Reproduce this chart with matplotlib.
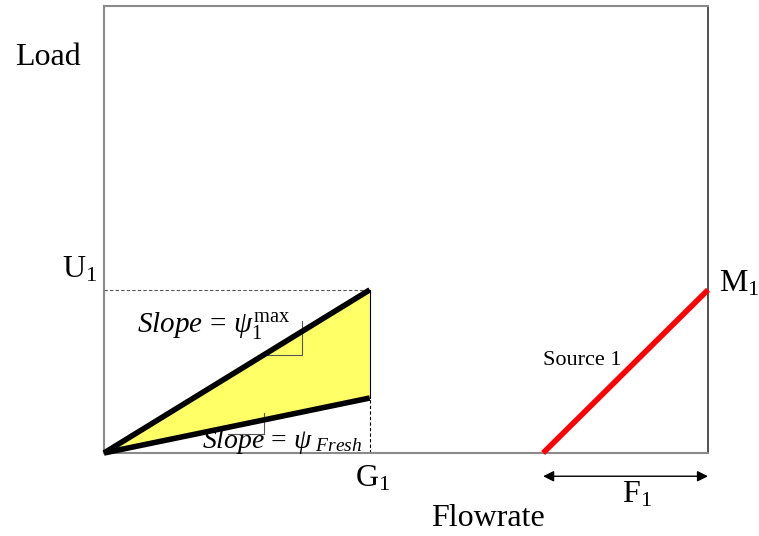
import numpy as np
import matplotlib.pyplot as plt

plt.rcParams["font.family"] = ["Liberation Serif", "DejaVu Serif"]
plt.rcParams["mathtext.fontset"] = "custom"
plt.rcParams["mathtext.rm"] = "Liberation Serif"
plt.rcParams["mathtext.it"] = "Liberation Serif:italic"

# Load / flowrate diagram values (axis units 0..100)
flow_limit = 100.0
load_limit = 100.0
g1_flow = 44.0          # G1: demand flowrate
u1_load = 36.5          # U1: max load at G1
fresh_load = 12.3       # load along the fresh-water slope at G1
source_start = 72.7     # start of source 1 segment
source_end = 100.0
m1_load = 36.5          # M1: source 1 load

# right-angle slope markers: (x_left, x_corner, y_corner, y_top)
upper_marker = [27.0, 32.8, 22.0, 29.6]
lower_marker = [20.5, 26.5, 4.3, 9.0]

fig = plt.figure(figsize=(7.59, 5.36), dpi=100)
ax = fig.add_axes([104 / 759, 83 / 536, 604 / 759, 447 / 536])
ax.set_xlim(0, flow_limit)
ax.set_ylim(0, load_limit)
ax.set_xticks([])
ax.set_yticks([])
for side in ["left", "top", "bottom"]:
    ax.spines[side].set_color("#8a8a8a")
    ax.spines[side].set_linewidth(1.5)
ax.spines["right"].set_color("#333333")
ax.spines["right"].set_linewidth(1.2)

# yellow feasible region between the two slopes
ax.fill([0, g1_flow, g1_flow], [0, u1_load, fresh_load],
        color="#ffff66", zorder=1)
ax.plot([g1_flow, g1_flow], [fresh_load, u1_load], color="black", lw=0.8, zorder=2)

# guide lines
ax.plot([0, g1_flow], [u1_load, u1_load], color="#555555", lw=0.8,
        ls=(0, (3, 2)), zorder=2)
ax.plot([g1_flow, g1_flow], [0, fresh_load], color="black", lw=0.8,
        ls=(0, (3, 2)), zorder=2)

# slope markers
for xl, xc, yc, yt in [upper_marker, lower_marker]:
    ax.plot([xl, xc, xc], [yc, yc, yt], color="#555555", lw=0.8, zorder=2)

# the two slope lines
ax.plot([0, g1_flow], [0, u1_load], color="black", lw=4.0,
        solid_capstyle="butt", zorder=4, clip_on=False)
ax.plot([0, g1_flow], [0, fresh_load], color="black", lw=4.0,
        solid_capstyle="butt", zorder=4, clip_on=False)

# source 1 line
ax.plot([source_start, source_end], [0, m1_load], color="#ff0000", lw=4.0,
        solid_capstyle="butt", zorder=4, clip_on=False)

# F1 span arrow
ax.annotate("", xy=(source_end, -5.2), xytext=(source_start, -5.2),
            xycoords="data", annotation_clip=False,
            arrowprops=dict(arrowstyle="<|-|>", color="black", lw=1.0,
                            mutation_scale=16, shrinkA=0, shrinkB=0))

# labels
big = 23
ax.text(-14.7, 86.8, "Load", fontsize=big, va="baseline", ha="left", clip_on=False)
ax.text(54.1, -16.4, "Flowrate", fontsize=big, va="baseline", ha="left", clip_on=False)
ax.text(-7.0, 39.2, "U$_1$", fontsize=big, va="baseline", ha="left", clip_on=False)
ax.text(41.6, -7.4, "G$_1$", fontsize=big, va="baseline", ha="left", clip_on=False)
ax.text(85.8, -11.0, "F$_1$", fontsize=big, va="baseline", ha="left", clip_on=False)
ax.text(101.8, 36.1, "M$_1$", fontsize=big, va="baseline", ha="left", clip_on=False)
ax.text(72.7, 19.7, "Source 1", fontsize=16, va="baseline", ha="left", zorder=5)

ax.text(5.5, 27.1, r"$Slope\,=\,\psi_1^{\mathrm{max}}$", fontsize=21,
        va="baseline", ha="left", zorder=5)
ax.text(16.2, 1.1, r"$Slope\,=\,\psi_{\ Fresh}$", fontsize=20,
        va="baseline", ha="left", zorder=5)

fig.savefig("out.png", dpi=100)
